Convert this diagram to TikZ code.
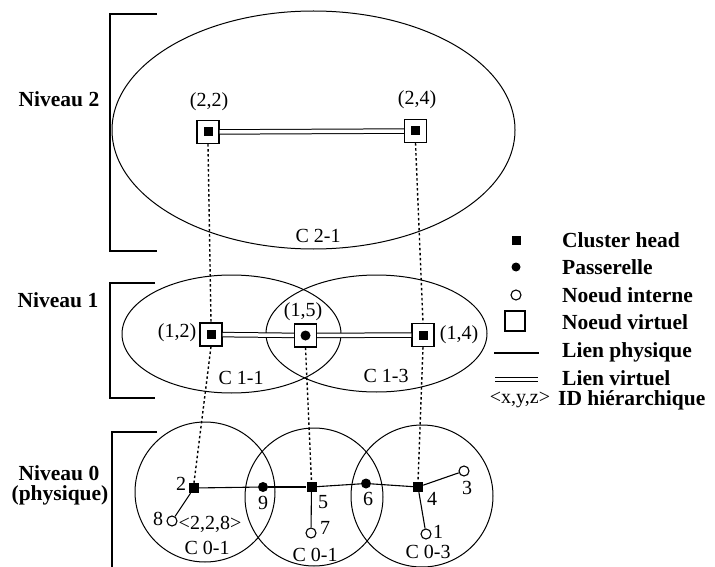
\documentclass[tikz,border=0pt]{standalone}
\usepackage{fontspec}
\setmainfont{Liberation Serif}
\usetikzlibrary{shapes.geometric}
\begin{document}
\begin{tikzpicture}[x=1pt,y=-1pt,
  txt/.style={font=\fontsize{20}{23}\selectfont, inner sep=0pt},
  btxt/.style={font=\fontsize{21.5}{24}\selectfont\bfseries, inner sep=0pt},
  cluster/.style={draw, line width=1pt, inner sep=0pt},
  vnode/.style={draw, line width=1.1pt, fill=white, minimum width=22pt, minimum height=23pt, inner sep=0pt},
  chead/.style={fill=black, minimum size=9pt, inner sep=0pt},
  gw/.style={circle, fill=black, minimum size=10pt, inner sep=0pt},
  inode/.style={circle, draw, fill=white, line width=1.1pt, minimum size=10pt, inner sep=0pt},
  plink/.style={line width=1.1pt},
  vlink/.style={double, double distance=3.5pt, line width=1pt},
  proj/.style={line width=1.4pt, dash pattern=on 2.5pt off 2.5pt},
  brk/.style={line width=1.1pt}]
\useasboundingbox (0,0) rectangle (715,567);

% brackets
\coordinate (b2a) at (157,14); \coordinate (b2b) at (110,14);
\coordinate (b2c) at (110,251); \coordinate (b2d) at (157,251);
\draw[brk] (b2a) -- (b2b) -- (b2c) -- (b2d);
\coordinate (b1a) at (155,283); \coordinate (b1b) at (110,283);
\coordinate (b1c) at (110,398); \coordinate (b1d) at (155,398);
\draw[brk] (b1a) -- (b1b) -- (b1c) -- (b1d);
\coordinate (b0a) at (157,432); \coordinate (b0b) at (112,432);
\coordinate (b0c) at (112,567);
\draw[brk] (b0a) -- (b0b) -- (b0c);

\node[btxt] (lv2) at (59,99) {Niveau 2};
\node[btxt] (lv1) at (58,300) {Niveau 1};
\node[btxt] (lv0) at (59,473) {Niveau 0};
\node[btxt] (lv0b) at (60,495) {(physique)};

% clusters
\node[cluster, ellipse, minimum width=403pt, minimum height=238pt] (c21) at (313.5,130) {};
\node[cluster, ellipse, minimum width=219pt, minimum height=118pt] (c11) at (231.5,334) {};
\node[cluster, ellipse, minimum width=221pt, minimum height=117pt] (c13) at (376.5,333.5) {};
\node[cluster, circle, minimum size=140pt] (c01a) at (205,492) {};
\node[cluster, circle, minimum size=138pt] (c01b) at (314,497) {};
\node[cluster, circle, minimum size=142pt] (c03) at (422,496) {};

\node[txt] (tc21) at (318,236) {C 2-1};
\node[txt] (tc11) at (241,378) {C 1-1};
\node[txt] (tc13) at (386,376) {C 1-3};
\node[txt] (tc01a) at (207,548) {C 0-1};
\node[txt] (tc01b) at (315,555) {C 0-1};
\node[txt] (tc03) at (428,552) {C 0-3};

% level 2 virtual nodes
\node[vnode] (v22) at (208,132) {};
\node[chead] (v22i) at (v22) {};
\node[vnode] (v24) at (415.5,131) {};
\node[chead] (v24i) at (v24) {};
\node[txt] (t22) at (209,102) {(2,2)};
\node[txt] (t24) at (417,100) {(2,4)};

% level 1 virtual nodes
\node[vnode] (v12) at (211,334.5) {};
\node[chead] (v12i) at (v12) {};
\node[vnode] (v15) at (305.5,335.5) {};
\node[gw] (v15i) at (v15) {};
\node[vnode] (v14) at (423,335) {};
\node[chead] (v14i) at (v14) {};
\node[txt] (t12) at (177,333) {(1,2)};
\node[txt] (t15) at (303,312) {(1,5)};
\node[txt] (t14) at (459,335) {(1,4)};

% level 0 nodes
\node[chead, minimum size=10pt] (n2) at (194,488) {};
\node[gw] (n9) at (263,487) {};
\node[chead, minimum size=10pt] (n5) at (311.5,487) {};
\node[gw] (n6) at (366,483.5) {};
\node[chead, minimum size=10pt] (n4) at (418,487) {};
\node[inode] (n3) at (464,471) {};
\node[inode] (n1) at (426,534) {};
\node[inode] (n7) at (311,533) {};
\node[inode] (n8) at (172,521) {};

\node[txt] (t2) at (181,484) {2};
\node[txt] (t9) at (263,503) {9};
\node[txt] (t5) at (323,502) {5};
\node[txt] (t6) at (368,499) {6};
\node[txt] (t4) at (432,499) {4};
\node[txt] (t3) at (467,488) {3};
\node[txt] (t1) at (438,532) {1};
\node[txt] (t7) at (325,528) {7};
\node[txt] (t8) at (158,519) {8};
\node[txt] (t228) at (210,524) {<2,2,8>};

% virtual links
\draw[vlink] (v22) -- (v24);
\draw[vlink] (v12) -- (v15);
\draw[vlink] (v15) -- (v14);

% projections
\draw[proj] (v22.south) -- (v12.north);
\draw[proj] (v24.south) -- (v14.north);
\draw[proj] (v12.south) -- (n2.north);
\draw[proj] (v15.south) -- (n5.north);
\draw[proj] (v14.south) -- (n4.north);

% physical links
\draw[plink] (n2) -- (n9);
\draw[plink] (n9) -- (n5);
\draw[plink] (n5) -- (n6);
\draw[plink] (n6) -- (n4);
\draw[plink] (n4) -- (n3);
\draw[plink] (n4) -- (n1);
\draw[plink] (n5) -- (n7);
\draw[plink] (n2) -- (n8);

% legend
\node[chead] (lg1) at (516,240) {};
\node[gw, minimum size=9pt] (lg2) at (516,267) {};
\node[inode] (lg3) at (516,295) {};
\node[draw, line width=1.1pt, minimum size=20pt, inner sep=0pt] (lg4) at (515,321) {};
\coordinate (lg5a) at (494,353); \coordinate (lg5b) at (539,353);
\draw[plink] (lg5a) -- (lg5b);
\coordinate (lg6a) at (495,379.5); \coordinate (lg6b) at (538,379.5);
\draw[vlink] (lg6a) -- (lg6b);
\node[txt] (lg7) at (520,400) {<x,y,z>};

\node[btxt, anchor=west] (lt1) at (562,240) {Cluster head};
\node[btxt, anchor=west] (lt2) at (562,267) {Passerelle};
\node[btxt, anchor=west] (lt3) at (562,295) {Noeud interne};
\node[btxt, anchor=west] (lt4) at (562,322) {Noeud virtuel};
\node[btxt, anchor=west] (lt5) at (562,352) {Lien physique};
\node[btxt, anchor=west] (lt6) at (562,378) {Lien virtuel};
\node[btxt, anchor=west] (lt7) at (558,400) {ID hiérarchique};
\end{tikzpicture}
\end{document}
